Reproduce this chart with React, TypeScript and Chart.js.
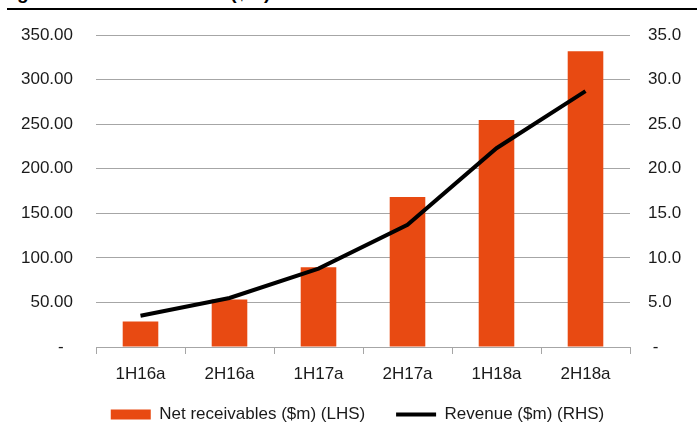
import React, { useEffect, useRef } from "react";
import { Chart, registerables } from "chart.js";

Chart.register(...registerables);

const categories = ["1H16a", "2H16a", "1H17a", "2H17a", "1H18a", "2H18a"];
const netReceivables = [28.6, 53.2, 89.4, 168.3, 254.7, 331.7];
const revenue = [3.5, 5.5, 8.8, 13.7, 22.3, 28.7];
const leftAxis = { min: 0, max: 350, step: 50 };
const rightAxis = { min: 0, max: 35, step: 5 };
const seriesNames = ["Net receivables ($m) (LHS)", "Revenue ($m) (RHS)"];
const titleText = "Figure 4: Net receivables ($m)";

const ORANGE = "#E84A12";
const GRID = "#a6a6a6";
const TEXT = "#1a1a1a";
const FONT = "'Liberation Sans', Arial, sans-serif";

export default function App() {
  const canvasRef = useRef<HTMLCanvasElement | null>(null);

  useEffect(() => {
    document.body.style.margin = "0";
    const canvas = canvasRef.current;
    if (!canvas) return;
    const chart = new Chart(canvas, {
      data: {
        labels: categories,
        datasets: [
          {
            type: "line",
            label: seriesNames[1],
            data: revenue,
            yAxisID: "y1",
            borderColor: "#000000",
            backgroundColor: "#000000",
            borderWidth: 4,
            pointRadius: 0,
            tension: 0,
            order: 0,
          },
          {
            type: "bar",
            label: seriesNames[0],
            data: netReceivables,
            yAxisID: "y",
            backgroundColor: ORANGE,
            borderWidth: 0,
            barPercentage: 0.4,
            categoryPercentage: 1,
            order: 1,
          },
        ],
      },
      options: {
        animation: false,
        responsive: false,
        maintainAspectRatio: false,
        layout: { padding: { left: 18, right: 0, top: 35, bottom: -9 } },
        plugins: {
          tooltip: { enabled: false },
          legend: {
            position: "bottom",
            reverse: true,
            labels: {
              color: TEXT,
              font: { family: FONT, size: 17 },
              usePointStyle: true,
              pointStyleWidth: 40,
              boxHeight: 10,
              padding: 12,
              generateLabels: (c: any) => {
                const items = Chart.defaults.plugins.legend.labels.generateLabels(c);
                return items.map((it: any) => {
                  if (it.datasetIndex === 0) {
                    return { ...it, pointStyle: "line", lineWidth: 4, strokeStyle: "#000", fillStyle: "#000" };
                  }
                  return {
                    ...it,
                    text: it.text + "    ",
                    pointStyle: "rect",
                    lineWidth: 0,
                    strokeStyle: ORANGE,
                    fillStyle: ORANGE,
                  };
                });
              },
            },
          },
        },
        scales: {
          x: {
            type: "category",
            grid: {
              offset: true,
              drawOnChartArea: false,
              drawTicks: true,
              tickLength: 7,
              color: GRID,
            },
            border: { color: GRID, width: 1 },
            ticks: { color: TEXT, font: { family: FONT, size: 17 }, padding: 10 },
            afterFit: (s: any) => {
              s.height = 47;
            },
          },
          y: {
            position: "left",
            min: leftAxis.min,
            max: leftAxis.max,
            grid: { color: GRID, drawTicks: false, lineWidth: 1 },
            border: { display: false },
            ticks: {
              stepSize: leftAxis.step,
              color: TEXT,
              font: { family: FONT, size: 17 },
              padding: 23,
              callback: (v: any) => (Number(v) === 0 ? "-  " : Number(v).toFixed(2)),
            },
            afterFit: (s: any) => {
              s.width = 78;
            },
          },
          y1: {
            position: "right",
            min: rightAxis.min,
            max: rightAxis.max,
            grid: { drawOnChartArea: false, drawTicks: false },
            border: { display: false },
            ticks: {
              stepSize: rightAxis.step,
              color: TEXT,
              font: { family: FONT, size: 17 },
              padding: 18,
              callback: (v: any) => (Number(v) === 0 ? " -" : Number(v).toFixed(1)),
            },
            afterFit: (s: any) => {
              s.width = 67;
            },
          },
        },
      },
    });
    return () => chart.destroy();
  }, []);

  return (
    <div style={{ position: "fixed", left: 0, top: 0, width: 697, height: 424, overflow: "hidden", background: "#fff" }}>
      <div
        style={{
          position: "absolute",
          left: 0,
          top: -17,
          fontFamily: FONT,
          fontWeight: "bold",
          fontSize: 19,
          lineHeight: 1,
          whiteSpace: "nowrap",
          color: "#000",
        }}
      >
        {titleText}
      </div>
      <div style={{ position: "absolute", left: 7, right: 0, top: 8, height: 2, background: "#000" }} />
      <canvas ref={canvasRef} width={697} height={424} style={{ position: "absolute", left: 0, top: 0, width: 697, height: 424 }} />
    </div>
  );
}
